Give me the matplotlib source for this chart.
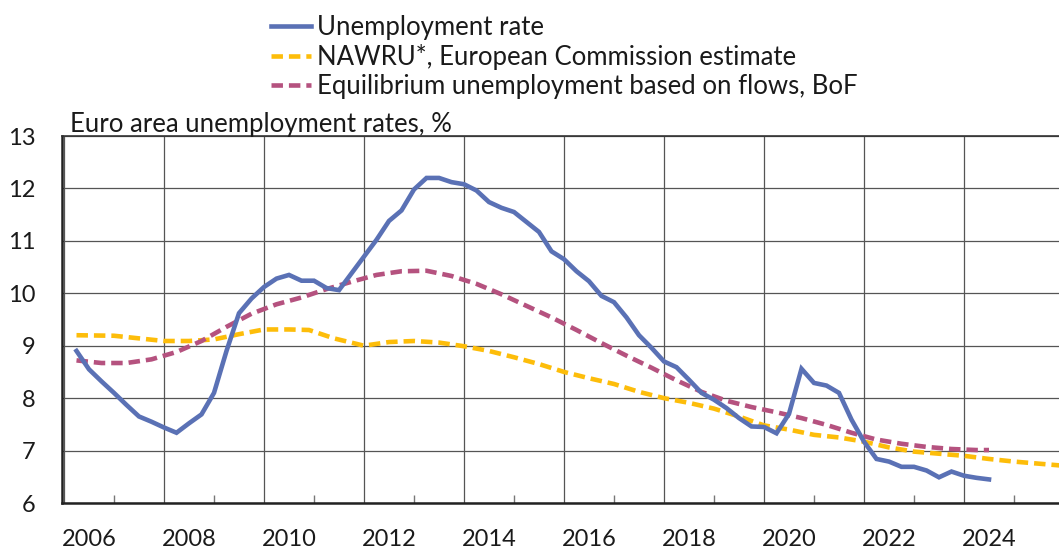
import matplotlib.pyplot as plt
import numpy as np
from matplotlib.ticker import MultipleLocator, FixedLocator
from matplotlib.transforms import ScaledTranslation

plt.rcParams["font.family"] = ["Lato", "DejaVu Sans"]

# Unemployment rate, quarterly from 2006Q2 to 2024Q3
unemp_start = 2006.25
unemployment = [
    8.90, 8.55, 8.32,
    8.10, 7.87, 7.65, 7.55,
    7.44, 7.34, 7.52, 7.69,
    8.10, 8.90, 9.62, 9.90,
    10.12, 10.28, 10.35, 10.24,
    10.24, 10.10, 10.06, 10.38,
    10.70, 11.02, 11.38, 11.58,
    11.98, 12.20, 12.20, 12.12,
    12.08, 11.96, 11.74, 11.63,
    11.55, 11.36, 11.17, 10.80,
    10.65, 10.42, 10.23, 9.95,
    9.83, 9.54, 9.20, 8.96,
    8.70, 8.59, 8.35, 8.10,
    7.97, 7.81, 7.62, 7.46,
    7.45, 7.33, 7.70, 8.56,
    8.29, 8.24, 8.10, 7.59,
    7.17, 6.84, 6.79, 6.69,
    6.69, 6.62, 6.49, 6.60,
    6.52, 6.48, 6.45,
]
unemp_years = unemp_start + 0.25 * np.arange(len(unemployment))

# NAWRU, European Commission estimate
nawru_years = [2006.25, 2007.0, 2007.5, 2008.0, 2008.5, 2009.0, 2009.5, 2010.0,
               2010.5, 2010.9, 2011.4, 2012.0, 2012.5, 2013.0, 2013.5, 2014.0,
               2014.5, 2015.0, 2015.5, 2016.0, 2016.5, 2017.0, 2017.5, 2018.0,
               2018.5, 2019.0, 2019.5, 2020.0, 2020.5, 2021.0, 2021.5, 2022.0,
               2022.5, 2023.0, 2023.5, 2024.0, 2024.5, 2025.0, 2025.5, 2026.0]
nawru = [9.20, 9.19, 9.14, 9.09, 9.09, 9.12, 9.22, 9.31,
         9.31, 9.30, 9.14, 9.00, 9.07, 9.09, 9.06, 8.99,
         8.90, 8.78, 8.65, 8.50, 8.38, 8.27, 8.12, 8.00,
         7.91, 7.80, 7.65, 7.48, 7.40, 7.30, 7.25, 7.17,
         7.06, 6.98, 6.94, 6.90, 6.84, 6.79, 6.75, 6.71]

# Equilibrium unemployment based on flows, BoF
flows_years = [2006.25, 2006.75, 2007.25, 2007.75, 2008.25, 2008.75, 2009.25,
               2009.75, 2010.25, 2010.75, 2011.25, 2011.75, 2012.25, 2012.75,
               2013.25, 2013.75, 2014.25, 2014.75, 2015.25, 2015.75, 2016.25,
               2016.75, 2017.25, 2017.75, 2018.25, 2018.75, 2019.25, 2019.75,
               2020.25, 2020.75, 2021.25, 2021.75, 2022.25, 2022.75, 2023.25,
               2023.75, 2024.25, 2024.5]
flows = [8.72, 8.67, 8.67, 8.74, 8.88, 9.09, 9.36,
         9.61, 9.79, 9.92, 10.08, 10.22, 10.35, 10.42,
         10.43, 10.33, 10.18, 9.98, 9.76, 9.54, 9.30,
         9.05, 8.81, 8.58, 8.34, 8.12, 7.95, 7.83,
         7.73, 7.62, 7.49, 7.34, 7.21, 7.13, 7.07,
         7.03, 7.01, 7.01]

label_years = list(range(2006, 2025, 2))

text_col = "#1a1a1a"
grid_col = "#555555"

fig = plt.figure(figsize=(10.59, 5.53), dpi=100)
ax = fig.add_axes([62 / 1059, 1 - 503 / 553, 1 - 62 / 1059, (503 - 136) / 553])

ax.plot(unemp_years, unemployment, color="#5A71B5", lw=3.3,
        solid_joinstyle="miter", label="Unemployment rate", zorder=4)
ax.plot(nawru_years, nawru, color="#FDBD0A", lw=3.3, dashes=(2.5, 1.3),
        label="NAWRU*, European Commission estimate", zorder=3)
ax.plot(flows_years, flows, color="#B5527F", lw=3.3, dashes=(2.5, 1.3),
        label="Equilibrium unemployment based on flows, BoF", zorder=3)

ax.set_xlim(2005.96, 2025.9)
ax.set_ylim(6, 13)
ax.yaxis.set_major_locator(MultipleLocator(1))
ax.xaxis.set_major_locator(FixedLocator(label_years + [2026]))
ax.xaxis.set_minor_locator(FixedLocator(list(range(2007, 2026, 2))))
ax.set_xticklabels([str(y) for y in label_years] + [""])

ax.grid(True, which="major", color=grid_col, lw=0.9)
ax.set_axisbelow(True)
ax.tick_params(axis="x", which="major", length=0, pad=19, labelsize=17,
               labelcolor=text_col)
ax.tick_params(axis="x", which="minor", direction="in", length=6, width=1,
               color="#777777")
ax.tick_params(axis="y", length=0, pad=19, labelsize=17, labelcolor=text_col)

# year labels sit in the middle of the year
shift = ScaledTranslation(0.25, 0, fig.dpi_scale_trans)
for lab in ax.get_xticklabels():
    lab.set_transform(lab.get_transform() + shift)

for side in ["left", "bottom"]:
    ax.spines[side].set_linewidth(1.8)
    ax.spines[side].set_color("#222222")
ax.spines["top"].set_color("#333333")
ax.spines["top"].set_linewidth(1.2)
ax.spines["right"].set_visible(False)

fig.text(70 / 1059, 1 - 132 / 553, "Euro area unemployment rates, %",
         fontsize=18.5, color=text_col, va="baseline")

fig.legend(loc="center left", bbox_to_anchor=(271 / 1059, 1 - 57 / 553),
           frameon=False, fontsize=18.5, handlelength=1.55,
           handletextpad=0.25, labelspacing=0.17, borderaxespad=0,
           borderpad=0, labelcolor=text_col)

fig.savefig("out.png", dpi=100)
